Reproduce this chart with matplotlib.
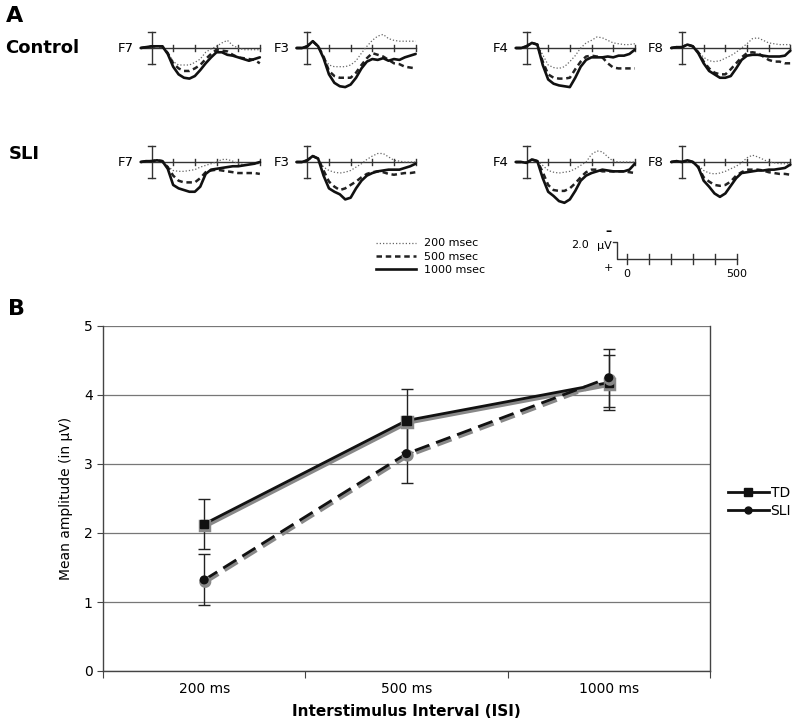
import matplotlib.pyplot as plt
import matplotlib.patheffects as pe
from matplotlib.lines import Line2D

# ---- panel A: ERP waveforms (uV, positive plotted downward) ----
times = [-50, -25, 0, 25, 50, 75, 100, 125, 150, 175, 200, 225, 250,
         275, 300, 325, 350, 375, 400, 425, 450, 475, 500]

ctrl_f7_1000 = [0, -0.1, -0.2, -0.2, -0.2, 0.7, 2.2, 3.1, 3.5, 3.6, 3.3, 2.6, 1.8, 1.1, 0.5, 0.5, 0.8, 0.9, 1.1, 1.3, 1.5, 1.3, 1.1]
ctrl_f7_500 = [0, -0.1, -0.2, -0.2, -0.2, 0.6, 1.8, 2.4, 2.7, 2.7, 2.4, 2.0, 1.3, 0.7, 0.2, 0.3, 0.4, 0.8, 1.1, 1.2, 1.3, 1.4, 1.8]
ctrl_f7_200 = [0, -0.1, -0.2, -0.2, -0.2, 0.5, 1.6, 2.0, 2.0, 2.0, 1.7, 1.3, 0.5, 0.1, -0.2, -0.6, -0.9, -0.3, 0, 0.2, 0.2, 0.2, 0.2]

ctrl_f3_1000 = [0, 0, -0.2, -0.8, -0.2, 1.2, 3.1, 4.1, 4.5, 4.6, 4.3, 3.5, 2.4, 1.6, 1.3, 1.4, 1.2, 1.5, 1.3, 1.4, 1.1, 0.9, 0.7]
ctrl_f3_500 = [0, 0, -0.2, -0.8, -0.2, 1.0, 2.7, 3.3, 3.5, 3.5, 3.5, 2.9, 2.0, 1.2, 0.6, 0.8, 1.0, 1.4, 1.8, 1.9, 2.2, 2.3, 2.4]
ctrl_f3_200 = [0, 0, -0.2, -0.8, -0.2, 1.0, 2.0, 2.2, 2.2, 2.2, 2.0, 1.5, 0.6, -0.2, -0.9, -1.4, -1.6, -1.1, -0.9, -0.8, -0.8, -0.8, -0.8]

ctrl_f4_1000 = [0, 0, -0.2, -0.6, -0.4, 2.0, 3.7, 4.2, 4.4, 4.5, 4.6, 3.5, 2.2, 1.4, 1.1, 1.1, 1.1, 1.0, 1.1, 0.9, 0.9, 0.7, 0.2]
ctrl_f4_500 = [0, 0, -0.2, -0.6, -0.4, 1.6, 3.1, 3.5, 3.6, 3.6, 3.5, 2.5, 1.6, 1.0, 0.9, 1.0, 1.1, 1.8, 2.3, 2.4, 2.4, 2.4, 2.4]
ctrl_f4_200 = [0, 0, -0.2, -0.6, -0.4, 0.8, 2.0, 2.3, 2.4, 2.2, 1.6, 0.9, 0, -0.6, -0.9, -1.3, -1.2, -0.9, -0.6, -0.5, -0.4, -0.4, -0.5]

ctrl_f8_1000 = [0, -0.1, -0.1, -0.4, -0.2, 0.6, 1.8, 2.7, 3.1, 3.5, 3.5, 3.3, 2.4, 1.4, 0.9, 0.8, 0.8, 0.9, 1.0, 1.0, 1.0, 0.9, 0.3]
ctrl_f8_500 = [0, -0.1, -0.1, -0.4, -0.2, 0.5, 1.6, 2.4, 2.9, 3.1, 3.1, 2.5, 1.8, 1.1, 0.6, 0.5, 0.6, 1.0, 1.4, 1.6, 1.6, 1.8, 1.8]
ctrl_f8_200 = [0, -0.1, -0.1, -0.4, -0.2, 0.4, 1.1, 1.5, 1.6, 1.5, 1.2, 0.9, 0.5, 0, -0.5, -1.1, -1.2, -0.9, -0.6, -0.5, -0.4, -0.4, -0.4]

sli_f7_1000 = [0, -0.1, -0.1, -0.2, -0.1, 0.8, 2.7, 3.1, 3.3, 3.5, 3.5, 2.9, 1.4, 0.9, 0.8, 0.7, 0.6, 0.5, 0.5, 0.4, 0.3, 0.2, 0]
sli_f7_500 = [0, -0.1, -0.1, -0.2, -0.1, 0.6, 1.6, 2.2, 2.4, 2.4, 2.4, 1.9, 1.2, 1.0, 0.9, 1.0, 1.1, 1.2, 1.3, 1.3, 1.3, 1.3, 1.4]
sli_f7_200 = [0, -0.1, -0.1, -0.2, -0.1, 0.5, 1.0, 1.1, 1.1, 1.0, 0.9, 0.6, 0.4, 0.2, 0, -0.3, -0.3, -0.1, 0.2, 0.3, 0.3, 0.2, 0.2]

sli_f3_1000 = [0, 0, -0.2, -0.7, -0.4, 1.6, 3.1, 3.5, 3.8, 4.4, 4.2, 3.1, 2.2, 1.6, 1.3, 1.1, 1.0, 0.9, 0.9, 0.9, 0.7, 0.5, 0.2]
sli_f3_500 = [0, 0, -0.2, -0.7, -0.4, 1.0, 2.3, 2.9, 3.3, 3.1, 2.7, 2.3, 1.8, 1.4, 1.2, 1.1, 1.2, 1.4, 1.5, 1.4, 1.3, 1.3, 1.2]
sli_f3_200 = [0, 0, -0.2, -0.7, -0.4, 0.6, 1.0, 1.2, 1.3, 1.2, 1.0, 0.6, 0.2, -0.3, -0.7, -1.0, -1.0, -0.6, -0.2, -0.1, 0, 0, 0]

sli_f4_1000 = [0, 0, 0.1, -0.3, -0.1, 1.9, 3.5, 4.0, 4.6, 4.8, 4.4, 3.4, 2.2, 1.6, 1.3, 1.1, 0.9, 1.0, 1.1, 1.1, 1.1, 0.9, 0.2]
sli_f4_500 = [0, 0, 0.1, -0.3, -0.1, 1.2, 2.7, 3.3, 3.4, 3.4, 3.1, 2.5, 1.8, 1.2, 0.9, 0.9, 1.1, 1.1, 1.1, 1.1, 1.1, 1.2, 1.3]
sli_f4_200 = [0, 0, 0.1, -0.3, -0.1, 0.4, 1.0, 1.2, 1.3, 1.2, 1.1, 0.8, 0.4, 0, -0.9, -1.3, -1.2, -0.6, -0.1, 0, 0, 0, 0]

sli_f8_1000 = [0, -0.1, 0, -0.2, 0, 0.6, 2.2, 2.9, 3.7, 4.1, 3.7, 2.8, 1.9, 1.3, 1.2, 1.1, 1.0, 1.0, 0.9, 0.9, 0.8, 0.7, 0.3]
sli_f8_500 = [0, -0.1, 0, -0.2, 0, 0.6, 1.8, 2.3, 2.7, 2.8, 2.7, 2.3, 1.6, 1.2, 0.9, 0.9, 0.9, 1.0, 1.2, 1.3, 1.4, 1.4, 1.5]
sli_f8_200 = [0, -0.1, 0, -0.2, 0, 0.4, 1.0, 1.3, 1.4, 1.3, 1.1, 0.8, 0.5, 0.1, -0.5, -0.8, -0.6, -0.3, 0, 0.1, 0.2, 0.2, 0.2]

electrodes = ["F7", "F3", "F4", "F8"]
isi_labels = ["200 msec", "500 msec", "1000 msec"]

# ---- panel B: mean amplitude ----
isi = ["200 ms", "500 ms", "1000 ms"]
td_mean = [2.13, 3.63, 4.18]
td_err = [0.36, 0.45, 0.40]
sli_mean = [1.32, 3.15, 4.25]
sli_err = [0.37, 0.43, 0.42]

W, H = 800, 723
fig = plt.figure(figsize=(W / 100, H / 100), dpi=100)

# background axes in pixel coordinates for labels and the scale bar
bg = fig.add_axes([0, 0, 1, 1])
bg.set_xlim(0, W)
bg.set_ylim(H, 0)
bg.axis("off")

bg.text(6, 16, "A", fontsize=16, fontweight="bold", va="center", ha="left")
bg.text(5, 48, "Control", fontsize=13, fontweight="bold", va="center", ha="left")
bg.text(9, 154, "SLI", fontsize=13, fontweight="bold", va="center", ha="left")
bg.text(8, 309, "B", fontsize=16, fontweight="bold", va="center", ha="left")

# styles for the three ISI conditions
styles = {
    "200": dict(color="#666666", lw=0.9, ls=(0, (1, 1.6))),
    "500": dict(color="#222222", lw=1.8, ls=(0, (2.2, 1.5))),
    "1000": dict(color="#111111", lw=1.9, ls="-"),
}

waves = {
    ("Control", "F7"): (ctrl_f7_200, ctrl_f7_500, ctrl_f7_1000),
    ("Control", "F3"): (ctrl_f3_200, ctrl_f3_500, ctrl_f3_1000),
    ("Control", "F4"): (ctrl_f4_200, ctrl_f4_500, ctrl_f4_1000),
    ("Control", "F8"): (ctrl_f8_200, ctrl_f8_500, ctrl_f8_1000),
    ("SLI", "F7"): (sli_f7_200, sli_f7_500, sli_f7_1000),
    ("SLI", "F3"): (sli_f3_200, sli_f3_500, sli_f3_1000),
    ("SLI", "F4"): (sli_f4_200, sli_f4_500, sli_f4_1000),
    ("SLI", "F8"): (sli_f8_200, sli_f8_500, sli_f8_1000),
}

# pixel position of t=0 and of the baseline for each small plot
x_zero = {"F7": 151.5, "F3": 307.3, "F4": 526.5, "F8": 682}
y_base = {"Control": 48, "SLI": 162}

px_ms = 0.2167   # pixels per ms
px_uv = 8.5      # pixels per uV
t_lo, t_hi = -60, 512
v_lo, v_hi = -2.6, 5.6

for grp in ["Control", "SLI"]:
    for el in electrodes:
        x0, y0 = x_zero[el], y_base[grp]
        left = x0 + t_lo * px_ms
        wpx = (t_hi - t_lo) * px_ms
        top = y0 + v_lo * px_uv
        hpx = (v_hi - v_lo) * px_uv
        ax = fig.add_axes([left / W, 1 - (top + hpx) / H, wpx / W, hpx / H])
        ax.set_xlim(t_lo, t_hi)
        ax.set_ylim(v_hi, v_lo)
        ax.axis("off")
        # baseline, ticks and calibration bar
        ax.plot([times[0], times[-1]], [0, 0], color="#333333", lw=1.0)
        for tk in [100, 200, 300, 400, 500]:
            ax.plot([tk, tk], [-0.38, 0.38], color="#333333", lw=1.0)
        ax.plot([0, 0], [-1.85, 1.85], color="#333333", lw=1.0)
        for cy in [-1.85, 1.85]:
            ax.plot([-14, 14], [cy, cy], color="#333333", lw=1.0)
        for vals, key in zip(waves[(grp, el)], ["200", "500", "1000"]):
            ax.plot(times, vals, solid_capstyle="round", **styles[key])
        bg.text(x0 - 18, y0, el, fontsize=9.5, ha="right", va="center")

# legend for the ISI line styles
handles = [Line2D([], [], **styles[k]) for k in ["200", "500", "1000"]]
fig.legend(handles, isi_labels, loc="upper left",
           bbox_to_anchor=(372 / W, 1 - 234 / H), frameon=False,
           fontsize=8, handlelength=3.6, labelspacing=0.3,
           handletextpad=0.7, borderaxespad=0)

# scale bar
sb_x0, sb_y = 617, 259
bg.plot([sb_x0 - 4, sb_x0, sb_x0, sb_x0 + 120], [242, 242, sb_y, sb_y],
        color="#333333", lw=1.0)
for tk in range(6):
    xx = 627 + tk * 22
    bg.plot([xx, xx], [254, 264], color="#333333", lw=1.0)
bg.text(608, 232, "–", fontsize=9, fontweight="bold", ha="center", va="center")
bg.text(580, 245, "2.0", fontsize=8, ha="center", va="center")
bg.text(604, 246, "μV", fontsize=8, ha="center", va="center")
bg.text(608, 268, "+", fontsize=8, ha="center", va="center")
bg.text(627, 274, "0", fontsize=8, ha="center", va="center")
bg.text(737, 274, "500", fontsize=8, ha="center", va="center")

# ---- panel B ----
axb = fig.add_axes([103 / W, 1 - 671 / H, 607 / W, 345 / H])
xpos = [0.5, 1.5, 2.5]
shadow = [pe.SimpleLineShadow(offset=(0.8, -1.4), shadow_color="#888888",
                              alpha=1.0, linewidth=3.2), pe.Normal()]
for mean, err in [(td_mean, td_err), (sli_mean, sli_err)]:
    axb.errorbar(xpos, mean, yerr=err, fmt="none", ecolor="#222222",
                 elinewidth=1.0, capsize=4, capthick=1.0, zorder=3)
axb.plot(xpos, td_mean, color="#111111", lw=2.0, marker="s", ms=6,
         path_effects=shadow, zorder=4)
axb.plot(xpos, sli_mean, color="#111111", lw=2.0, ls=(0, (5.5, 2.6)),
         marker="o", ms=5.5, path_effects=shadow, zorder=4)

axb.set_xlim(0, 3)
axb.set_ylim(0, 5)
axb.set_yticks([0, 1, 2, 3, 4, 5])
axb.yaxis.grid(True, color="#777777", lw=0.9)
axb.set_axisbelow(True)
axb.set_xticks([0, 1, 2, 3])
axb.set_xticklabels([])
axb.set_xticks(xpos, minor=True)
axb.set_xticklabels(isi, minor=True)
axb.tick_params(axis="x", which="minor", length=0, pad=8, labelsize=10)
axb.tick_params(axis="x", which="major", length=5, direction="out",
                color="#444444")
axb.tick_params(axis="y", length=4, direction="out", labelsize=10,
                color="#444444")
for side in ["left", "bottom", "right"]:
    axb.spines[side].set_color("#444444")
    axb.spines[side].set_linewidth(1.0)
axb.spines["top"].set_visible(False)
axb.set_ylabel("Mean amplitude (in μV)", fontsize=10, labelpad=8)
axb.set_xlabel("Interstimulus Interval (ISI)", fontsize=11,
               fontweight="bold", labelpad=6)

leg_handles = [
    Line2D([], [], color="#111111", lw=2.0, marker="s", ms=5.5),
    Line2D([], [], color="#111111", lw=2.0, marker="o", ms=5),
]
fig.legend(leg_handles, ["TD", "SLI"], loc="upper left",
           bbox_to_anchor=(722 / W, 1 - 480 / H), frameon=False,
           fontsize=10, handlelength=3.0, handletextpad=0.1,
           labelspacing=0.3, borderaxespad=0)

fig.savefig("out.png", dpi=100)
